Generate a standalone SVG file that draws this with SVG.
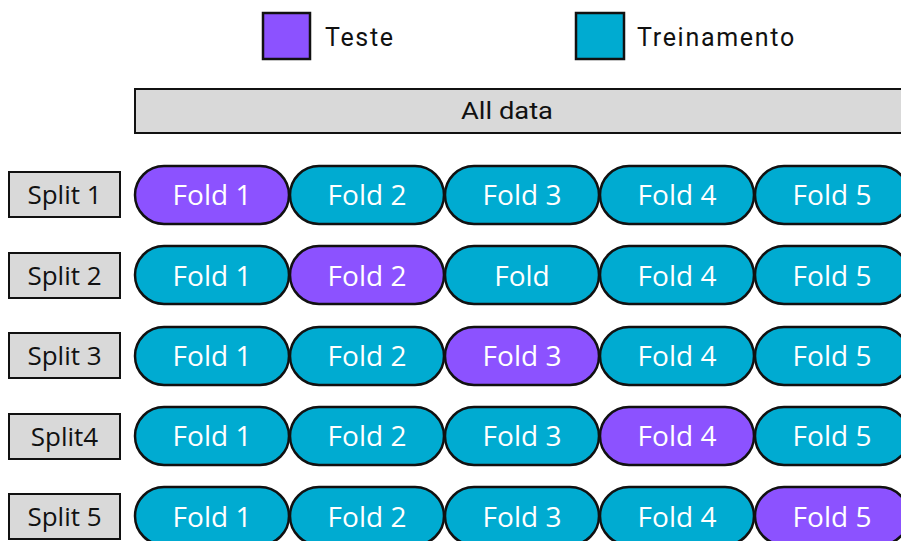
<svg xmlns="http://www.w3.org/2000/svg" width="901" height="541" viewBox="0 0 901 541">
<style>
.p{stroke:#111;stroke-width:2.5}
.te{fill:#8c52ff}
.tr{fill:#00abd1}
.ft{font-family:"Open Sans","Liberation Sans",sans-serif;font-size:28px;fill:#fff;text-anchor:middle}
.sb{fill:#d9d9d9;stroke:#111;stroke-width:2}
.st{font-family:"Open Sans","Liberation Sans",sans-serif;font-size:26px;fill:#111;text-anchor:middle}
.lg{font-family:Roboto,"Liberation Sans",sans-serif;font-size:25px;letter-spacing:1.7px;fill:#111}
</style>
<rect width="901" height="541" fill="#fff"/>
<g id="legend">
<rect x="263" y="13" width="47" height="46" class="p te"/>
<text x="325" y="46" class="lg">Teste</text>
<rect x="576" y="13" width="48" height="46" class="p tr"/>
<text x="637" y="46" class="lg">Treinamento</text>
</g>
<g id="alldata">
<rect x="135" y="89" width="780" height="44" class="sb"/>
<text x="507" y="119" font-family="Roboto,'Liberation Sans',sans-serif" font-weight="400" font-size="23" fill="#111" text-anchor="middle" textLength="92" lengthAdjust="spacingAndGlyphs">All data</text>
</g>
<g id="row1">
<rect x="9" y="172" width="111" height="45" class="sb"/><text x="64.5" y="204" class="st">Split 1</text>
<rect x="135" y="166" width="154" height="58" rx="29" class="p te"/><text x="212" y="205" class="ft">Fold 1</text>
<rect x="290" y="166" width="154" height="58" rx="29" class="p tr"/><text x="367" y="205" class="ft">Fold 2</text>
<rect x="445" y="166" width="154" height="58" rx="29" class="p tr"/><text x="522" y="205" class="ft">Fold 3</text>
<rect x="600" y="166" width="154" height="58" rx="29" class="p tr"/><text x="677" y="205" class="ft">Fold 4</text>
<rect x="755" y="166" width="154" height="58" rx="29" class="p tr"/><text x="832" y="205" class="ft">Fold 5</text>
</g>
<g id="row2">
<rect x="9" y="253" width="111" height="45" class="sb"/><text x="64.5" y="285" class="st">Split 2</text>
<rect x="135" y="246" width="154" height="58" rx="29" class="p tr"/><text x="212" y="285.5" class="ft">Fold 1</text>
<rect x="290" y="246" width="154" height="58" rx="29" class="p te"/><text x="367" y="285.5" class="ft">Fold 2</text>
<rect x="445" y="246" width="154" height="58" rx="29" class="p tr"/><text x="522" y="285.5" class="ft">Fold</text>
<rect x="600" y="246" width="154" height="58" rx="29" class="p tr"/><text x="677" y="285.5" class="ft">Fold 4</text>
<rect x="755" y="246" width="154" height="58" rx="29" class="p tr"/><text x="832" y="285.5" class="ft">Fold 5</text>
</g>
<g id="row3">
<rect x="9" y="333" width="111" height="45" class="sb"/><text x="64.5" y="365" class="st">Split 3</text>
<rect x="135" y="327" width="154" height="58" rx="29" class="p tr"/><text x="212" y="366" class="ft">Fold 1</text>
<rect x="290" y="327" width="154" height="58" rx="29" class="p tr"/><text x="367" y="366" class="ft">Fold 2</text>
<rect x="445" y="327" width="154" height="58" rx="29" class="p te"/><text x="522" y="366" class="ft">Fold 3</text>
<rect x="600" y="327" width="154" height="58" rx="29" class="p tr"/><text x="677" y="366" class="ft">Fold 4</text>
<rect x="755" y="327" width="154" height="58" rx="29" class="p tr"/><text x="832" y="366" class="ft">Fold 5</text>
</g>
<g id="row4">
<rect x="9" y="414" width="111" height="45" class="sb"/><text x="64.5" y="446" class="st">Split4</text>
<rect x="135" y="407" width="154" height="58" rx="29" class="p tr"/><text x="212" y="446" class="ft">Fold 1</text>
<rect x="290" y="407" width="154" height="58" rx="29" class="p tr"/><text x="367" y="446" class="ft">Fold 2</text>
<rect x="445" y="407" width="154" height="58" rx="29" class="p tr"/><text x="522" y="446" class="ft">Fold 3</text>
<rect x="600" y="407" width="154" height="58" rx="29" class="p te"/><text x="677" y="446" class="ft">Fold 4</text>
<rect x="755" y="407" width="154" height="58" rx="29" class="p tr"/><text x="832" y="446" class="ft">Fold 5</text>
</g>
<g id="row5">
<rect x="9" y="494" width="111" height="45" class="sb"/><text x="64.5" y="526" class="st">Split 5</text>
<rect x="135" y="487" width="154" height="58" rx="29" class="p tr"/><text x="212" y="526.5" class="ft">Fold 1</text>
<rect x="290" y="487" width="154" height="58" rx="29" class="p tr"/><text x="367" y="526.5" class="ft">Fold 2</text>
<rect x="445" y="487" width="154" height="58" rx="29" class="p tr"/><text x="522" y="526.5" class="ft">Fold 3</text>
<rect x="600" y="487" width="154" height="58" rx="29" class="p tr"/><text x="677" y="526.5" class="ft">Fold 4</text>
<rect x="755" y="487" width="154" height="58" rx="29" class="p te"/><text x="832" y="526.5" class="ft">Fold 5</text>
</g>
</svg>
